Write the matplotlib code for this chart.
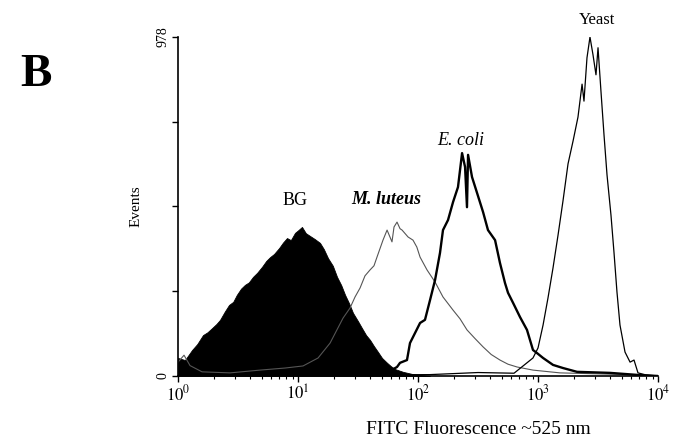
import matplotlib
matplotlib.use("Agg")
import matplotlib.pyplot as plt
import numpy as np

# channel positions (log10 of FITC fluorescence) and event counts
bg_logx = [0.0, 0.058, 0.117, 0.16, 0.208, 0.245, 0.283, 0.32, 0.35, 0.39, 0.425, 0.46,
           0.49, 0.525, 0.558, 0.59, 0.625, 0.66, 0.70, 0.735, 0.767, 0.80, 0.842, 0.875,
           0.908, 0.94, 0.975, 1.0, 1.033, 1.065, 1.10, 1.14, 1.183, 1.215, 1.25, 1.29,
           1.325, 1.36, 1.392, 1.425, 1.458, 1.50, 1.533, 1.567, 1.60, 1.633, 1.667,
           1.70, 1.742, 1.775, 1.808, 1.875, 1.95, 2.017, 2.1]
bg_counts = [52, 46, 75, 92, 118, 126, 138, 150, 162, 186, 205, 214, 234, 252, 263, 270,
             286, 298, 315, 332, 343, 352, 369, 385, 398, 392, 413, 420, 430, 412, 404,
             395, 384, 366, 340, 318, 286, 262, 234, 210, 182, 158, 138, 118, 104, 86,
             69, 52, 38, 28, 20, 12, 6, 3, 0]

ml_logx = [0.0, 0.05, 0.1, 0.2, 0.433, 0.683, 0.892, 1.042, 1.167, 1.267, 1.375, 1.433,
           1.475, 1.517, 1.558, 1.60, 1.633, 1.658, 1.708, 1.742, 1.783, 1.80, 1.825,
           1.85, 1.867, 1.917, 1.958, 1.99, 2.017, 2.075, 2.142, 2.208, 2.292, 2.35,
           2.408, 2.475, 2.542, 2.61, 2.683, 2.75, 2.825, 2.958, 3.183, 3.517, 3.85, 4.0]
ml_counts = [40, 60, 30, 12, 9, 17, 23, 29, 52, 95, 167, 196, 228, 254, 289, 306, 318,
             343, 392, 421, 387, 430, 444, 425, 421, 401, 392, 372, 343, 306, 271, 228,
             190, 165, 133, 108, 84, 62, 46, 34, 26, 17, 9, 6, 3, 0]

ec_logx = [0.0, 1.5, 1.733, 1.825, 1.85, 1.908, 1.933, 1.975, 2.017, 2.058, 2.10, 2.142,
           2.183, 2.208, 2.25, 2.292, 2.333, 2.367, 2.392, 2.408, 2.417, 2.45, 2.492,
           2.542, 2.583, 2.642, 2.683, 2.725, 2.75, 2.792, 2.85, 2.908, 2.958, 2.992,
           3.042, 3.125, 3.208, 3.325, 3.6, 3.833, 4.0]
ec_counts = [0, 0, 8, 26, 38, 46, 95, 124, 153, 162, 219, 277, 355, 421, 450, 502, 545,
             643, 603, 487, 638, 574, 528, 473, 421, 392, 326, 268, 240, 211, 170, 133,
             75, 66, 52, 32, 23, 12, 9, 3, 0]

ye_logx = [0.0, 2.1, 2.5, 2.8, 2.958, 3.0, 3.042, 3.083, 3.125, 3.167, 3.208, 3.25,
           3.292, 3.333, 3.367, 3.383, 3.408, 3.433, 3.458, 3.483, 3.50, 3.525, 3.55,
           3.575, 3.608, 3.633, 3.658, 3.683, 3.725, 3.767, 3.80, 3.833, 3.9, 4.0]
ye_counts = [0, 4, 10, 8, 52, 81, 147, 225, 312, 407, 505, 612, 678, 747, 842, 793, 918,
             978, 927, 869, 947, 819, 695, 580, 464, 357, 242, 147, 69, 40, 46, 9, 3, 0]

plt.rcParams["font.family"] = ["Liberation Serif", "DejaVu Serif"]
plt.rcParams["mathtext.fontset"] = "stix"

fig = plt.figure(figsize=(6.79, 4.41), dpi=100)
ax = fig.add_axes([0.2622, 0.1474, 0.7069, 0.7687])

ax.fill_between(10 ** np.array(bg_logx), bg_counts, 0, color="black", lw=0.6)
ax.plot(10 ** np.array(ml_logx), ml_counts, color="#555555", lw=0.8)
ax.plot(10 ** np.array(ec_logx), ec_counts, color="black", lw=1.7)
ax.plot(10 ** np.array(ye_logx), ye_counts, color="black", lw=0.9)

ax.set_xscale("log")
ax.set_xlim(1, 1e4)
ax.set_ylim(0, 978)
for side in ("top", "right"):
    ax.spines[side].set_visible(False)
ax.spines["left"].set_linewidth(1.2)
ax.spines["bottom"].set_linewidth(1.2)

ax.set_xticks([1, 10, 100, 1000, 10000])
ax.set_xticklabels([r"$10^0$", r"$10^1$", r"$10^2$", r"$10^3$", r"$10^4$"], fontsize=12)
ax.tick_params(axis="x", which="major", length=4, width=1, pad=2)
ax.tick_params(axis="x", which="minor", length=2.5, width=0.8)

ax.set_yticks([0, 244.5, 489, 733.5, 978])
ax.set_yticklabels(["0", "", "", "", "978"], rotation=90, va="center", fontsize=10)
ax.tick_params(axis="y", which="major", length=4, width=1, pad=2)

ax.set_ylabel("Events", fontsize=11, labelpad=10)
fig.text(478 / 679, 1 - 430 / 441, "FITC Fluorescence ~525 nm", fontsize=14,
         ha="center", va="center")

ax.text(10 ** 0.975, 505, "BG", fontsize=13, ha="center", va="center")
ax.text(10 ** 1.733, 510, "M. luteus", fontsize=13, style="italic", weight="bold",
        ha="center", va="center")
ax.text(10 ** 2.358, 680, "E. coli", fontsize=13, style="italic", ha="center", va="center")
fig.text(597 / 679, 1 - 20 / 441, "Yeast", fontsize=12, ha="center", va="center")
fig.text(36 / 679, 1 - 75 / 441, "B", fontsize=34, weight="bold", ha="center", va="center")

fig.savefig("out.png", dpi=100)
